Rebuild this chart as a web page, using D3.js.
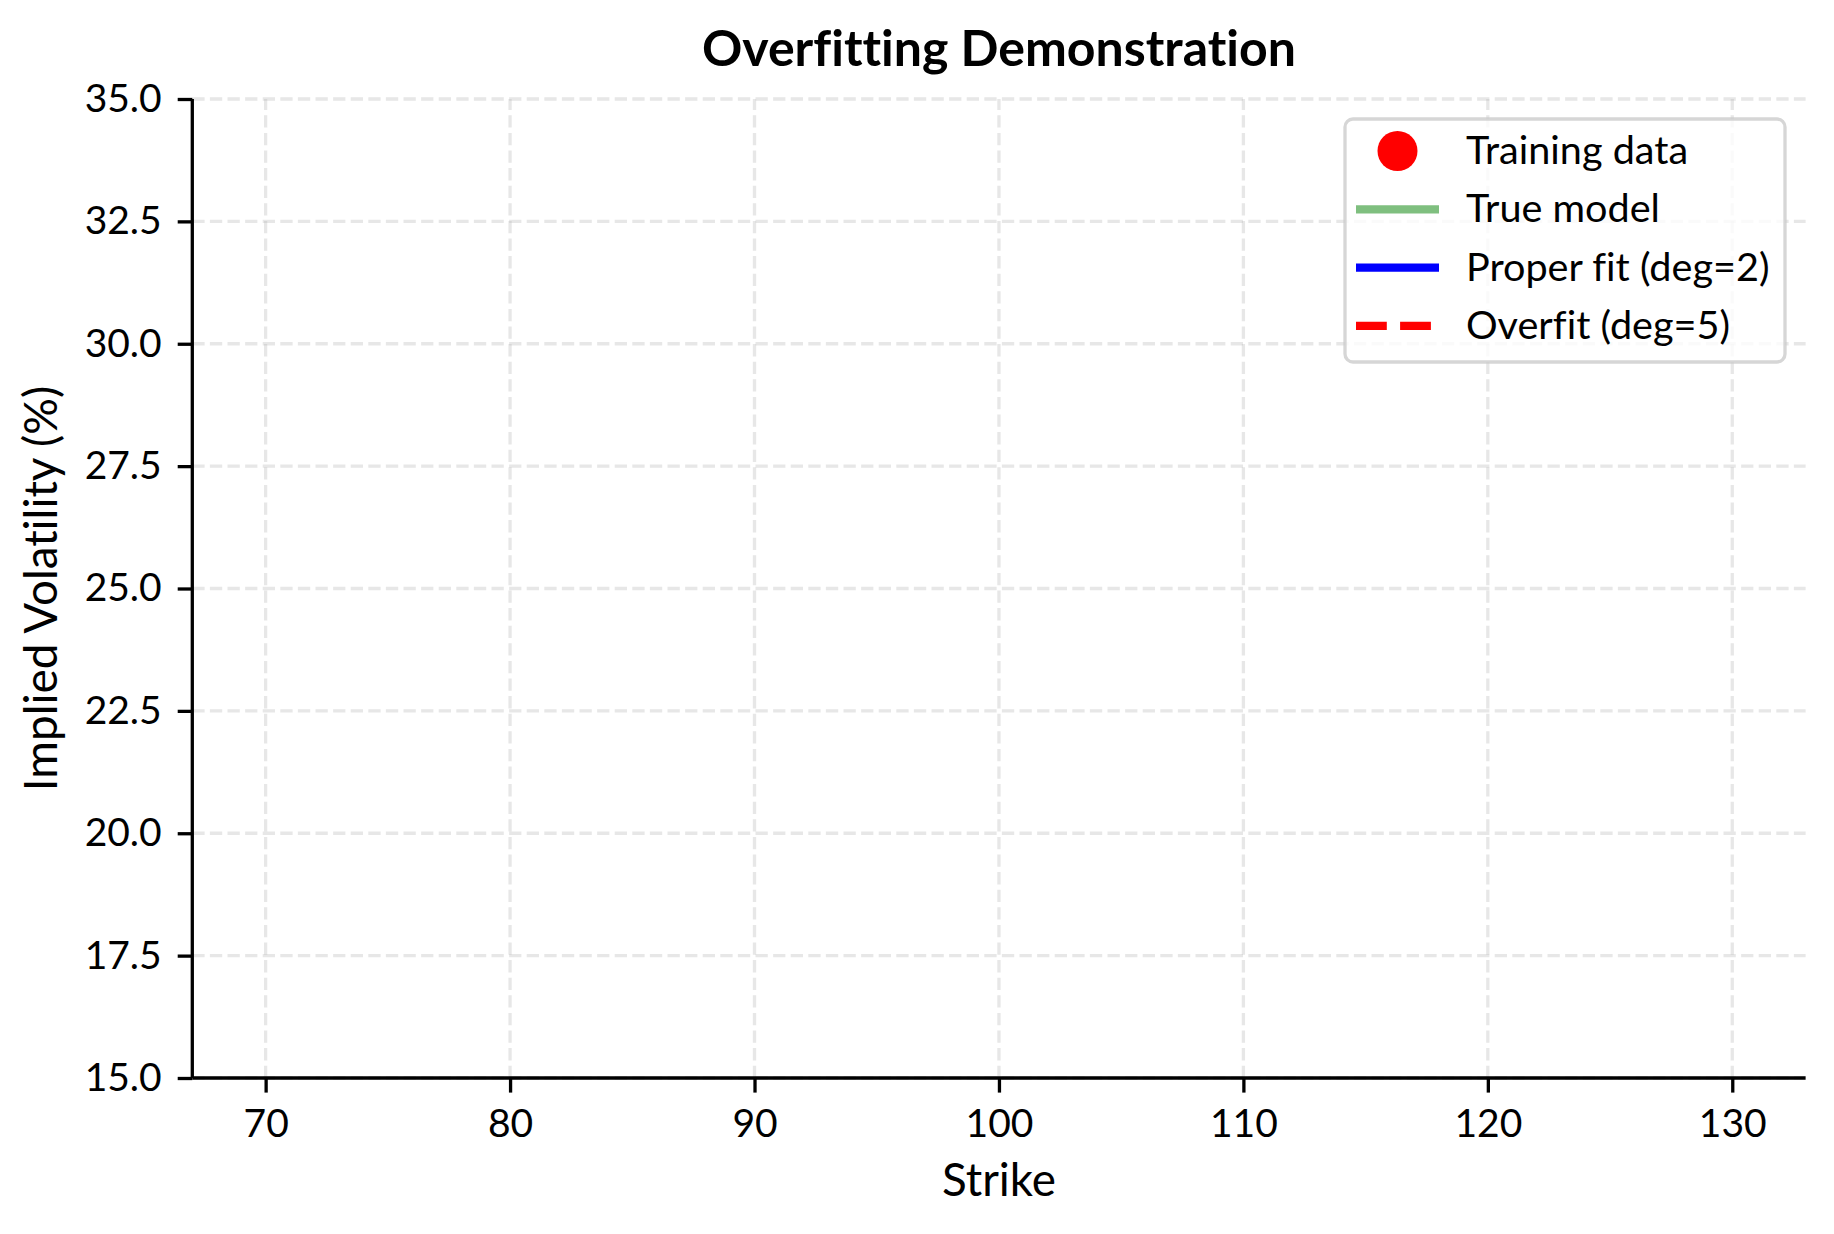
<!DOCTYPE html>
<html>
<head>
<meta charset="utf-8">
<script src="https://cdn.jsdelivr.net/npm/d3@7"></script>
<style>
  body { margin: 0; background: #fff; }
  text { font-family: Lato, "Noto Sans", sans-serif; font-variant-ligatures: none; }
</style>
</head>
<body>
<div id="chart"></div>
<script>
// axis ticks
const xTicks = [70, 80, 90, 100, 110, 120, 130];
const yTicks = [15.0, 17.5, 20.0, 22.5, 25.0, 27.5, 30.0, 32.5, 35.0];

// series: nothing lands inside the visible window, so these stay empty
const trainStrikes = [];
const trainVols = [];
const modelStrikes = [];
const trueVols = [];
const properVols = [];
const overfitVols = [];

const legendLabels = ['Training data', 'True model', 'Proper fit (deg=2)', 'Overfit (deg=5)'];

const width = 1834;
const height = 1234;
const margin = { top: 99, right: 28.4, bottom: 156, left: 192.3 };

const svg = d3.select('#chart')
  .append('svg')
  .attr('width', width)
  .attr('height', height);

svg.append('rect').attr('width', width).attr('height', height).attr('fill', '#fff');

const x = d3.scaleLinear()
  .domain([67, 133])
  .range([margin.left, width - margin.right]);

const y = d3.scaleLinear()
  .domain([15, 35])
  .range([height - margin.bottom, margin.top]);

svg.append('defs').append('clipPath').attr('id', 'plot')
  .append('rect')
  .attr('x', x(67)).attr('y', y(35))
  .attr('width', x(133) - x(67)).attr('height', y(15) - y(35));

// grid
const grid = svg.append('g')
  .attr('stroke', '#b0b0b0')
  .attr('stroke-opacity', 0.3)
  .attr('stroke-width', 3.3)
  .attr('stroke-dasharray', '12.3,5.3');

grid.selectAll('.vg')
  .data(xTicks)
  .join('line')
    .attr('x1', d => x(d)).attr('x2', d => x(d))
    .attr('y1', y(15)).attr('y2', y(35));

grid.selectAll('.hg')
  .data(yTicks)
  .join('line')
    .attr('y1', d => y(d)).attr('y2', d => y(d))
    .attr('x1', x(67)).attr('x2', x(133));

// series (clipped to the axes box)
const plot = svg.append('g').attr('clip-path', 'url(#plot)');

const line = d3.line().x(d => x(d[0])).y(d => y(d[1]));

plot.append('path')
  .datum(d3.zip(modelStrikes, trueVols))
  .attr('fill', 'none').attr('stroke', 'green').attr('stroke-opacity', 0.5)
  .attr('stroke-width', 8.3).attr('d', line);

plot.append('path')
  .datum(d3.zip(modelStrikes, properVols))
  .attr('fill', 'none').attr('stroke', 'blue')
  .attr('stroke-width', 8.3).attr('d', line);

plot.append('path')
  .datum(d3.zip(modelStrikes, overfitVols))
  .attr('fill', 'none').attr('stroke', 'red')
  .attr('stroke-dasharray', '30.8,13.3')
  .attr('stroke-width', 8.3).attr('d', line);

plot.selectAll('circle')
  .data(d3.zip(trainStrikes, trainVols))
  .join('circle')
    .attr('cx', d => x(d[0]))
    .attr('cy', d => y(d[1]))
    .attr('r', 20)
    .attr('fill', 'red');

// axes
function xAxis(g) {
  g.attr('transform', `translate(0,${y(15)})`)
    .call(d3.axisBottom(x).tickValues(xTicks).tickSize(14.6).tickPadding(14.6).tickSizeOuter(0))
    .attr('font-size', '39px')
    .attr('font-family', null);
  g.select('.domain').attr('stroke-width', 3.3).attr('d', `M${x(67)},0H${x(133)}`);
  g.selectAll('.tick line').attr('stroke-width', 3.3);
  g.selectAll('.tick text').attr('fill', '#000').attr('dy', '0.76em');
}

function yAxis(g) {
  g.attr('transform', `translate(${x(67)},0)`)
    .call(d3.axisLeft(y).tickValues(yTicks).tickFormat(d3.format('.1f')).tickSize(14.6).tickPadding(16).tickSizeOuter(0))
    .attr('font-size', '39px')
    .attr('font-family', null);
  g.select('.domain').attr('stroke-width', 3.3).attr('d', `M0,${y(15)}V${y(35)}`);
  g.selectAll('.tick line').attr('stroke-width', 3.3);
  g.selectAll('.tick text').attr('fill', '#000');
}

svg.append('g').call(xAxis);
svg.append('g').call(yAxis);

// labels
svg.append('text')
  .attr('x', (x(67) + x(133)) / 2)
  .attr('y', 66)
  .attr('text-anchor', 'middle')
  .attr('font-size', '50px')
  .attr('font-weight', 'bold')
  .text('Overfitting Demonstration');

svg.append('text')
  .attr('x', (x(67) + x(133)) / 2)
  .attr('y', 1196)
  .attr('text-anchor', 'middle')
  .attr('font-size', '45.8px')
  .text('Strike');

svg.append('text')
  .attr('transform', `translate(57,${(y(15) + y(35)) / 2}) rotate(-90)`)
  .attr('text-anchor', 'middle')
  .attr('font-size', '45.8px')
  .text('Implied Volatility (%)');

// legend
const legend = svg.append('g');
legend.append('rect')
  .attr('x', 1345).attr('y', 119)
  .attr('width', 440).attr('height', 243)
  .attr('rx', 8)
  .attr('fill', '#fff').attr('fill-opacity', 0.8)
  .attr('stroke', '#cccccc').attr('stroke-opacity', 0.8)
  .attr('stroke-width', 3.3);

const rowY = i => 151 + i * 58.3;

const items = legend.selectAll('.item')
  .data(legendLabels)
  .join('g')
    .attr('transform', (d, i) => `translate(0,${rowY(i)})`);

items.append('text')
  .attr('x', 1466)
  .attr('y', 13)
  .attr('font-size', '39.6px')
  .text(d => d);

items.filter((d, i) => i === 0).append('circle')
  .attr('cx', 1397.5).attr('cy', 0).attr('r', 20).attr('fill', 'red');

const handleStyles = [null,
  { stroke: 'green', opacity: 0.5, dash: null },
  { stroke: 'blue', opacity: 1, dash: null },
  { stroke: 'red', opacity: 1, dash: '30.8,13.3' }];

items.filter((d, i) => i > 0).append('line')
  .attr('x1', 1356).attr('x2', 1439)
  .attr('stroke', (d, i) => handleStyles[i + 1].stroke)
  .attr('stroke-opacity', (d, i) => handleStyles[i + 1].opacity)
  .attr('stroke-dasharray', (d, i) => handleStyles[i + 1].dash)
  .attr('stroke-width', 8.3);
</script>
</body>
</html>
